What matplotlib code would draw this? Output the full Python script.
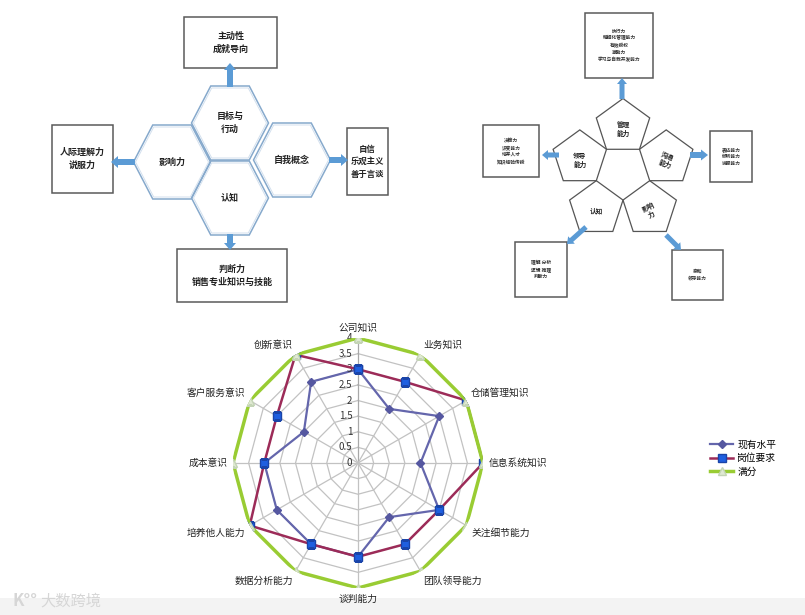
import numpy as np
import matplotlib
matplotlib.use('Agg')
import matplotlib.pyplot as plt
from matplotlib.patches import Polygon, Rectangle, FancyArrow

plt.rcParams['font.family'] = ['Noto Sans CJK SC', 'DejaVu Sans']

# ---------------- data ----------------
categories = ['公司知识', '业务知识', '仓储管理知识', '信息系统知识', '关注细节能力', '团队领导能力',
              '谈判能力', '数据分析能力', '培养他人能力', '成本意识', '客户服务意识', '创新意识']
current_level = [3, 2, 3, 2, 3, 2, 3, 3, 3, 3, 2, 3]
required_level = [3, 3, 4, 4, 3, 3, 3, 3, 4, 3, 3, 4]
full_score = [4, 4, 4, 4, 4, 4, 4, 4, 4, 4, 4, 4]
series_names = ['现有水平', '岗位要求', '满分']
radial_ticks = [0, 0.5, 1, 1.5, 2, 2.5, 3, 3.5, 4]
radial_tick_labels = ['0', '0.5', '1', '1.5', '2', '2.5', '3', '3.5', '4']

hex_labels = ['目标与\n行动', '影响力', '自我概念', '认知']
hex_box_texts = ['主动性\n成就导向', '人际理解力\n说服力', '自信\n乐观主义\n善于言谈', '判断力\n销售专业知识与技能']
pent_labels = ['管理\n能力', '沟通\n能力', '影响\n力', '认知', '领导\n能力']
pent_box_texts = ['执行力\n精细化管理能力\n有效授权\n激励力\n学习与自我开发能力',
                  '表达能力\n倾听能力\n说服能力',
                  '亲和\n领导能力',
                  '理解 分析\n逻辑 推理\n判断力',
                  '决策力\n识变能力\n培养人才\n知识经验传授']

W, H = 805, 615
fig = plt.figure(figsize=(W / 100, H / 100), dpi=100)
fig.patch.set_facecolor('white')

# ---------------- overlay axes in pixel coordinates ----------------
ax0 = fig.add_axes([0, 0, 1, 1])
ax0.set_xlim(0, W)
ax0.set_ylim(H, 0)
ax0.axis('off')

ARROW = '#5b9bd5'
EDGE = '#5a5a5a'
HEXC = '#86a9cc'


def hexagon(cx, cy, s=38.5, h=74):
    return [(cx - s, cy), (cx - s / 2, cy - h / 2), (cx + s / 2, cy - h / 2),
            (cx + s, cy), (cx + s / 2, cy + h / 2), (cx - s / 2, cy + h / 2)]


def arrow(x0, y0, x1, y1, w=6, hw=12, hl=7):
    ax0.add_patch(FancyArrow(x0, y0, x1 - x0, y1 - y0, width=w, head_width=hw,
                             head_length=hl, length_includes_head=True,
                             color=ARROW, lw=0, zorder=3))


def box(x0, y0, x1, y1):
    ax0.add_patch(Rectangle((x0, y0), x1 - x0, y1 - y0, fill=True, facecolor='white',
                            edgecolor=EDGE, lw=1.1, zorder=2))


# left diagram: hexagons
hex_centers = [(230, 123), (172, 162), (292, 160), (230, 198)]
for (hx, hy), lab in zip(hex_centers, hex_labels):
    ax0.add_patch(Polygon(hexagon(hx, hy), closed=True, fill=False, edgecolor=HEXC, lw=1.1, zorder=2))
    ax0.add_patch(Polygon(hexagon(hx, hy, 36.5, 70), closed=True, fill=False, edgecolor='#d3e0ee', lw=0.7, zorder=2))
    ax0.text(hx, hy, lab, ha='center', va='center', fontsize=6.5, fontweight='bold',
             color='#222222', linespacing=1.5, zorder=4)

hex_boxes = [(184, 17, 277, 68), (52, 125, 113, 193), (347, 128, 388, 195), (177, 249, 287, 302)]
hex_box_fs = [6.5, 6.5, 6.0, 6.5]
for (x0, y0, x1, y1), t, fs in zip(hex_boxes, hex_box_texts, hex_box_fs):
    box(x0, y0, x1, y1)
    ax0.text((x0 + x1) / 2, (y0 + y1) / 2, t, ha='center', va='center', fontsize=fs,
             fontweight='bold', color='#222222', linespacing=1.5, zorder=4)

arrow(230, 87, 230, 63)
arrow(135, 162, 111, 162)
arrow(329, 160, 348, 160)
arrow(230, 234, 230, 250)

# right diagram: pentagon ring
C = np.array([623.0, 172.0])
side = 33.0
rin = side / (2 * np.tan(np.radians(36)))
Rc = side / (2 * np.sin(np.radians(36)))
dirs = [90, 18, -54, -126, 162]
rots = [0, -20, 25, 0, 0]
for d, lab, rot in zip(dirs, pent_labels, rots):
    a = np.radians(d)
    pc = C + 2 * rin * np.array([np.cos(a), -np.sin(a)])
    verts = []
    for k in range(5):
        b = a + np.radians(72 * k)
        verts.append((pc[0] + Rc * np.cos(b), pc[1] - Rc * np.sin(b)))
    ax0.add_patch(Polygon(verts, closed=True, fill=False, edgecolor='#555555', lw=0.9, zorder=2))
    ax0.text(pc[0], pc[1] + 2, lab, ha='center', va='center', fontsize=4.8, fontweight='bold',
             color='#222222', rotation=rot, linespacing=1.3, zorder=4)

pent_boxes = [(585, 13, 653, 78), (710, 131, 752, 182), (672, 250, 723, 300),
              (515, 242, 567, 297), (483, 125, 539, 177)]
for (x0, y0, x1, y1), t in zip(pent_boxes, pent_box_texts):
    box(x0, y0, x1, y1)
    ax0.text((x0 + x1) / 2, (y0 + y1) / 2, t, ha='center', va='center', fontsize=3.4,
             fontweight='bold', color='#333333', linespacing=1.5, zorder=4)

arrow(622, 99, 622, 78, w=5, hw=10, hl=6)
arrow(690, 155, 708, 155, w=6, hw=11, hl=7)
arrow(666, 235, 681, 250, w=5, hw=10, hl=6)
arrow(586, 227, 567, 244, w=5, hw=10, hl=6)
arrow(559, 155, 542, 155, w=5, hw=10, hl=6)

# bottom strip + watermark
ax0.add_patch(Rectangle((0, 598), W, 17, facecolor='#f3f3f3', edgecolor='none', zorder=0))
ax0.text(12, 601, 'K°°', ha='left', va='center', fontsize=12, color='#d6d6d6', fontweight='bold', zorder=1)
ax0.text(40, 601, '大数跨境', ha='left', va='center', fontsize=11, color='#d6d6d6', zorder=1)

# ---------------- radar chart ----------------
cx, cy, R = 358, 463, 125
axr = fig.add_axes([(cx - R) / W, 1 - (cy + R) / H, 2 * R / W, 2 * R / H], projection='polar')
axr.set_theta_zero_location('N')
axr.set_theta_direction(-1)
axr.set_ylim(0, 4)
axr.grid(False)
axr.spines['polar'].set_visible(False)
axr.set_xticks([])
axr.set_yticks([])
axr.patch.set_alpha(0)

n = len(categories)
theta = np.linspace(0, 2 * np.pi, n, endpoint=False)
tc = np.append(theta, theta[0])

for r in radial_ticks[1:]:
    axr.plot(tc, [r] * (n + 1), color='#c2c2c2', lw=0.9, zorder=1)
for i, t in enumerate(theta):
    axr.plot([t, t], [0, radial_ticks[-1]], color='#a8a8a8' if i == 0 else '#c2c2c2', lw=0.9, zorder=1)


def closed(v):
    return list(v) + [v[0]]


l1, = axr.plot(tc, closed(current_level), color='#6466ac', lw=1.6, marker='D', markersize=4,
               markerfacecolor='#5557a0', markeredgecolor='#5557a0', zorder=3, label=series_names[0])
l2, = axr.plot(tc, closed(required_level), color='#9c2b58', lw=1.8, marker='s', markersize=6,
               markerfacecolor='#1f5fe0', markeredgecolor='#1a44a8', zorder=4, label=series_names[1])
l3, = axr.plot(tc, closed(full_score), color='#99cc33', lw=2.5, marker='^', markersize=5.5,
               markerfacecolor='#dfe9d2', markeredgecolor='#c4d4b6', zorder=5, label=series_names[2])

for r, lbl in zip(radial_ticks, radial_tick_labels):
    axr.annotate(lbl, xy=(0, r), xytext=(-4, 0), textcoords='offset points', ha='right',
                 va='center', fontsize=7, color='#333333', annotation_clip=False)

for t, lab in zip(theta, categories):
    s, c = np.sin(t), np.cos(t)
    ha = 'left' if s > 0.1 else ('right' if s < -0.1 else 'center')
    va = 'bottom' if c > 0.1 else ('top' if c < -0.1 else 'center')
    axr.annotate(lab, xy=(t, 4), xytext=(s * 4, c * 4), textcoords='offset points',
                 ha=ha, va=va, fontsize=7, color='#222222', annotation_clip=False)

fig.legend(handles=[l1, l2, l3], labels=series_names, loc='upper left',
           bbox_to_anchor=(706 / W, 1 - 436 / H), frameon=False, fontsize=7,
           handlelength=2.4, labelspacing=0.35, handletextpad=0.4, borderaxespad=0)

fig.savefig('out.png', dpi=100, facecolor='white')
